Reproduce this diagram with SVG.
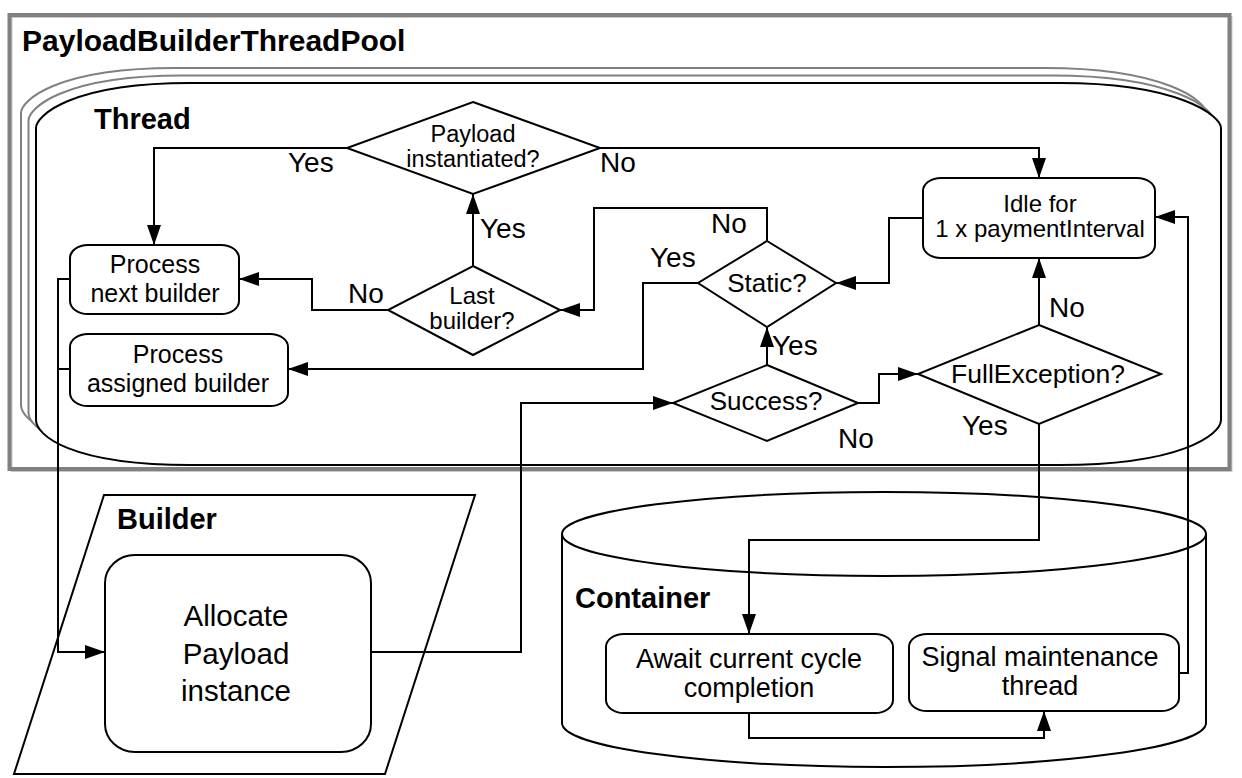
<svg xmlns="http://www.w3.org/2000/svg" width="1242" height="778" viewBox="0 0 1242 778">
<style>
text{font-family:"Liberation Sans",Arial,sans-serif;fill:#000}
.b{font-weight:bold}
.c{text-anchor:middle}
.shape{fill:#fff;stroke:#000;stroke-width:2}
.lbl{font-size:28px}
.conn{fill:none;stroke:#000;stroke-width:2}
</style>
<defs>
<marker id="ah" markerUnits="userSpaceOnUse" markerWidth="20" markerHeight="14" refX="20" refY="7" orient="auto">
<path d="M0,0 L20,7 L0,14 z" fill="#000"/>
</marker>
<path id="threadShape" d="M36,128 C36,116 70,83 190,83 L1060,83 C1180,83 1221,116 1221,128 L1221,420 C1221,435 1180,465 1060,465 L190,465 C70,465 36,435 36,420 Z"/>
</defs>
<rect width="1242" height="778" fill="#fff"/>

<g id="pool">
<rect x="11.5" y="17" width="1220" height="454" fill="none" stroke="#c8c8c8" stroke-width="2"/>
<rect x="9.5" y="15" width="1220" height="454" fill="none" stroke="#808080" stroke-width="4"/>
<text class="b" x="22" y="51" font-size="30">PayloadBuilderThreadPool</text>
</g>

<g id="thread">
<use href="#threadShape" transform="translate(-15,-15)" fill="#fff" stroke="#808080" stroke-width="2"/>
<use href="#threadShape" transform="translate(-7.5,-7.5)" fill="#fff" stroke="#808080" stroke-width="2"/>
<use href="#threadShape" fill="#fff" stroke="#000" stroke-width="2"/>
<text class="b" x="94" y="129" font-size="29">Thread</text>
</g>

<g id="payloadInstantiated">
<polygon class="shape" points="473,102 600,148 473,194 347,148"/>
<text class="c" x="473" y="142" font-size="23.5">Payload</text>
<text class="c" x="473" y="167" font-size="23.5">instantiated?</text>
</g>

<g id="lastBuilder">
<polygon class="shape" points="473,266 560,310 473,355 388,310"/>
<text class="c" x="472" y="304" font-size="24">Last</text>
<text class="c" x="472" y="329" font-size="24">builder?</text>
</g>

<g id="static">
<polygon class="shape" points="767,241 836,283 767,327 698,283"/>
<text class="c" x="767" y="292" font-size="26">Static?</text>
</g>

<g id="success">
<polygon class="shape" points="767,365 858,403 767,441 673,403"/>
<text class="c" x="766" y="410" font-size="26">Success?</text>
</g>

<g id="fullException">
<polygon class="shape" points="1039,325 1161,374 1039,424 918,374"/>
<text class="c" x="1038" y="383" font-size="26.5">FullException?</text>
</g>

<g id="idle">
<rect class="shape" x="923" y="178" width="232" height="80" rx="18" ry="13"/>
<text class="c" x="1040" y="212" font-size="24">Idle for</text>
<text class="c" x="1040" y="237" font-size="24">1 x paymentInterval</text>
</g>

<g id="processNext">
<rect class="shape" x="70" y="245" width="169" height="69" rx="18" ry="13"/>
<text class="c" x="155" y="273" font-size="25">Process</text>
<text class="c" x="155" y="302" font-size="25">next builder</text>
</g>

<g id="processAssigned">
<rect class="shape" x="70" y="334" width="218" height="72" rx="18" ry="13"/>
<text class="c" x="178" y="363" font-size="25">Process</text>
<text class="c" x="178" y="392" font-size="25">assigned builder</text>
</g>

<g id="builder">
<polygon class="shape" points="104,495 475,495 385,774 14,774"/>
<text class="b" x="117" y="529" font-size="29">Builder</text>
</g>

<g id="allocate">
<rect class="shape" x="105" y="555" width="266" height="197" rx="30" ry="28"/>
<text class="c" x="236" y="626" font-size="29.5">Allocate</text>
<text class="c" x="236" y="664" font-size="29.5">Payload</text>
<text class="c" x="236" y="701" font-size="29.5">instance</text>
</g>

<g id="container">
<path class="shape" d="M562,534 L562,723 A322,44 0 0 0 1206,723 L1206,534"/>
<ellipse class="shape" cx="884" cy="534" rx="322" ry="42"/>
<text class="b" x="575" y="608" font-size="29">Container</text>
</g>

<g id="await">
<rect class="shape" x="606" y="634" width="287" height="79" rx="18" ry="13"/>
<text class="c" x="749" y="668" font-size="27">Await current cycle</text>
<text class="c" x="749" y="697" font-size="27">completion</text>
</g>

<g id="signal">
<rect class="shape" x="909" y="634" width="270" height="77" rx="18" ry="13"/>
<text class="c" x="1040" y="666" font-size="27">Signal maintenance</text>
<text class="c" x="1040" y="695" font-size="27">thread</text>
</g>

<g id="connectors">
<path class="conn" d="M347,148 H154 V245" marker-end="url(#ah)"/>
<path class="conn" d="M600,148 H1039 V178" marker-end="url(#ah)"/>
<path class="conn" d="M473,266 V194" marker-end="url(#ah)"/>
<path class="conn" d="M388,310 H312 V279 H239" marker-end="url(#ah)"/>
<path class="conn" d="M767,241 V208 H594 V310 H560" marker-end="url(#ah)"/>
<path class="conn" d="M698,283 H643 V369 H288" marker-end="url(#ah)"/>
<path class="conn" d="M767,365 V327" marker-end="url(#ah)"/>
<path class="conn" d="M858,403 H879 V374 H918" marker-end="url(#ah)"/>
<path class="conn" d="M1039,325 V258" marker-end="url(#ah)"/>
<path class="conn" d="M1039,424 V540 H749 V634" marker-end="url(#ah)"/>
<path class="conn" d="M749,713 V738 H1044 V711" marker-end="url(#ah)"/>
<path class="conn" d="M1179,673 H1188 V217 H1155" marker-end="url(#ah)"/>
<path class="conn" d="M923,218 H889 V283 H836" marker-end="url(#ah)"/>
<path class="conn" d="M70,279 H58 V652 H105" marker-end="url(#ah)"/>
<path class="conn" d="M70,369 H58"/>
<path class="conn" d="M371,652 H521 V403 H673" marker-end="url(#ah)"/>
<text class="lbl" x="288" y="172">Yes</text>
<text class="lbl" x="600" y="172">No</text>
<text class="lbl" x="480" y="238">Yes</text>
<text class="lbl" x="348" y="303">No</text>
<text class="lbl" x="711" y="233">No</text>
<text class="lbl" x="650" y="267">Yes</text>
<text class="lbl" x="772" y="355">Yes</text>
<text class="lbl" x="838" y="448">No</text>
<text class="lbl" x="1049" y="317">No</text>
<text class="lbl" x="962" y="435">Yes</text>
</g>
</svg>
